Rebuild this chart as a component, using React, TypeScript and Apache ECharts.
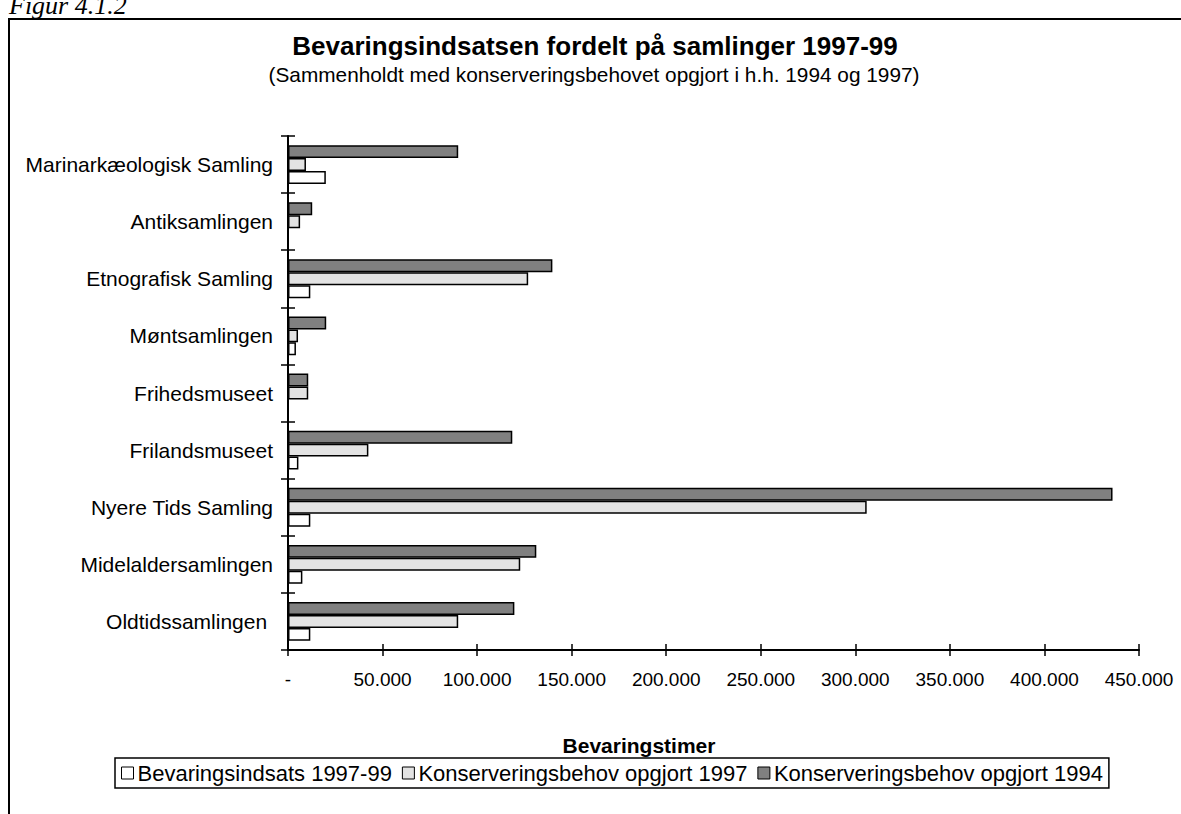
import React, { useEffect, useRef } from "react";
import * as echarts from "echarts";

const categories = [
  "Oldtidssamlingen ",
  "Midelaldersamlingen",
  "Nyere Tids Samling",
  "Frilandsmuseet",
  "Frihedsmuseet",
  "Møntsamlingen",
  "Etnografisk Samling",
  "Antiksamlingen",
  "Marinarkæologisk Samling",
];

const indsats9799 = [11800, 7600, 11800, 5500, 0, 4200, 11800, 0, 20000];
const behov1997 = [90000, 122800, 306000, 42500, 10700, 5300, 127000, 6400, 9500];
const behov1994 = [119700, 131300, 436000, 118600, 10700, 20200, 139800, 12800, 90000];

const seriesNames = [
  "Bevaringsindsats 1997-99",
  "Konserveringsbehov opgjort 1997",
  "Konserveringsbehov opgjort 1994",
];

const xTicks = { min: 0, max: 450000, interval: 50000 };

const FONT = "'Liberation Sans', Arial, sans-serif";

export default function App() {
  const ref = useRef<HTMLDivElement>(null);
  useEffect(() => {
    document.body.style.margin = "0";
    const chart = echarts.init(ref.current!, null, { renderer: "svg" });
    const fmt = (v: number) =>
      v === 0 ? "-" : String(v).replace(/\B(?=(\d{3})+(?!\d))/g, ".");
    const barStyle = (color: string) => ({
      color,
      borderColor: "#000",
      borderWidth: 1.5,
    });
    chart.setOption({
      animation: false,
      backgroundColor: "#fff",
      textStyle: { fontFamily: FONT, color: "#000" },
      title: [
        {
          left: 595,
          top: 33,
          textAlign: "center",
          text: "Bevaringsindsatsen fordelt på samlinger 1997-99",
          textStyle: { fontFamily: FONT, fontSize: 26, fontWeight: "bold", color: "#000" },
          padding: 0,
        },
        {
          left: 594,
          top: 64,
          textAlign: "center",
          text: "(Sammenholdt med konserveringsbehovet opgjort i h.h. 1994 og 1997)",
          textStyle: { fontFamily: FONT, fontSize: 20.8, fontWeight: "normal", color: "#000" },
          padding: 0,
        },
      ],
      legend: {
        left: 115,
        top: 758,
        data: seriesNames,
        icon: "rect",
        itemWidth: 12,
        itemHeight: 12,
        itemGap: 10,
        borderColor: "#000",
        borderWidth: 1.5,
        padding: [4, 6, 4, 6],
        textStyle: { fontFamily: FONT, fontSize: 22, color: "#000", padding: [0, 0, 0, -1] },
        itemStyle: { borderColor: "#000", borderWidth: 1 },
      },
      grid: { left: 288, right: 42, top: 136, bottom: 164 },
      xAxis: [
        {
          type: "value",
          ...xTicks,
          axisLine: { show: true, lineStyle: { color: "#000", width: 2 } },
          axisTick: { show: true, length: 6, lineStyle: { color: "#000", width: 1.5 } },
          splitLine: { show: false },
          axisLabel: { formatter: fmt, fontFamily: FONT, fontSize: 19, color: "#000", margin: 20 },
        },
        {
          type: "value",
          position: "bottom",
          ...xTicks,
          axisLine: { show: false },
          axisTick: { show: true, inside: true, length: 6, lineStyle: { color: "#000", width: 1.5 } },
          splitLine: { show: false },
          axisLabel: { show: false },
        },
      ],
      yAxis: [
        {
          type: "category",
          data: categories,
          axisLine: { show: true, lineStyle: { color: "#000", width: 2 } },
          axisTick: { show: true, length: 7, lineStyle: { color: "#000", width: 1.5 } },
          axisLabel: { fontFamily: FONT, fontSize: 21, color: "#000", margin: 15 },
        },
        {
          type: "category",
          position: "left",
          data: categories,
          axisLine: { show: false },
          axisTick: { show: true, inside: true, length: 7, lineStyle: { color: "#000", width: 1.5 } },
          axisLabel: { show: false },
        },
      ],
      graphic: [
        {
          type: "rect",
          shape: { x: 9, y: 19, width: 1300, height: 1000 },
          style: { fill: "none", stroke: "#000", lineWidth: 2 },
        },
        {
          type: "text",
          x: 9,
          y: 18,
          style: {
            text: "Figur 4.1.2",
            font: "italic 26px 'Liberation Serif', 'Times New Roman', serif",
            fill: "#000",
            textVerticalAlign: "bottom",
          },
        },
        {
          type: "text",
          x: 639,
          y: 745,
          style: {
            text: "Bevaringstimer",
            font: "bold 21px 'Liberation Sans', Arial, sans-serif",
            fill: "#000",
            textAlign: "center",
            textVerticalAlign: "middle",
          },
        },
      ],
      series: [
        {
          name: seriesNames[2],
          type: "bar",
          data: behov1994,
          itemStyle: barStyle("#808080"),
          barCategoryGap: "32%",
          barGap: "0%",
        },
        {
          name: seriesNames[1],
          type: "bar",
          data: behov1997,
          itemStyle: barStyle("#e3e3e3"),
          barCategoryGap: "32%",
          barGap: "0%",
        },
        {
          name: seriesNames[0],
          type: "bar",
          data: indsats9799,
          itemStyle: barStyle("#ffffff"),
          barCategoryGap: "32%",
          barGap: "0%",
        },
      ],
    });
    return () => chart.dispose();
  }, []);
  return <div ref={ref} style={{ width: 1181, height: 814 }} />;
}
